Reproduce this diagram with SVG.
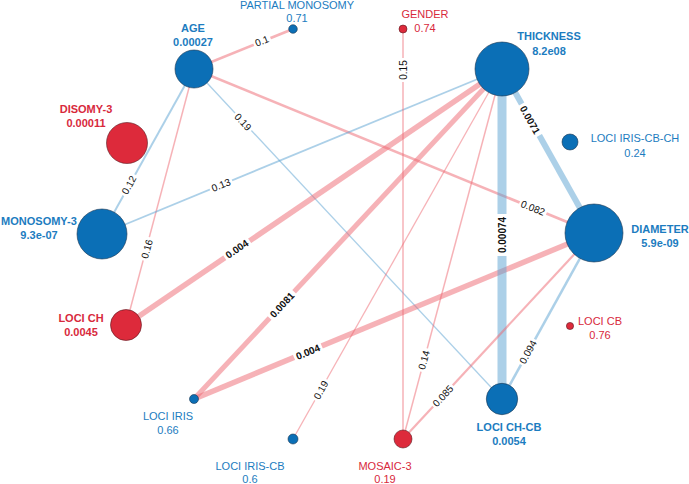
<svg xmlns="http://www.w3.org/2000/svg" width="689" height="484" viewBox="0 0 689 484">
<style>
.er{stroke:#ee6670;stroke-opacity:0.5;fill:none}
.eb{stroke:#5aa2d2;stroke-opacity:0.5;fill:none}
.nb{fill:#0b6fb6;stroke:#1b3550;stroke-width:0.6}
.nr{fill:#dd2a3b;stroke:#5a1a20;stroke-width:0.6}
.lb{font-family:"Liberation Sans",Arial,sans-serif;font-size:11px;fill:#1c7cc0;text-anchor:middle}
.lr{font-family:"Liberation Sans",Arial,sans-serif;font-size:11px;fill:#d8293c;text-anchor:middle}
.b{font-weight:bold}
.el{font-family:"Liberation Sans",Arial,sans-serif;font-size:10px;fill:#111;text-anchor:middle}
.bg{fill:#fff}
</style>
<rect width="689" height="484" fill="#fff"/>
<g id="connectors">
<line class="er" x1="194" y1="69" x2="293" y2="29" stroke-width="2.6"/>
<line class="eb" x1="194" y1="69" x2="102" y2="234" stroke-width="2"/>
<line class="er" x1="194" y1="69" x2="126" y2="325" stroke-width="1.5"/>
<line class="eb" x1="194" y1="69" x2="502" y2="399" stroke-width="1.3"/>
<line class="er" x1="194" y1="69" x2="594" y2="233" stroke-width="2.6"/>
<line class="eb" x1="102" y1="234" x2="502" y2="69" stroke-width="1.8"/>
<line class="er" x1="126" y1="325" x2="502" y2="69" stroke-width="5.5"/>
<line class="er" x1="194" y1="399" x2="502" y2="69" stroke-width="5"/>
<line class="er" x1="194" y1="399" x2="594" y2="233" stroke-width="5.5"/>
<line class="er" x1="403" y1="29" x2="403" y2="439" stroke-width="1.5"/>
<line class="eb" x1="502" y1="69" x2="502" y2="399" stroke-width="9"/>
<line class="eb" x1="502" y1="69" x2="594" y2="233" stroke-width="6"/>
<line class="er" x1="502" y1="69" x2="293" y2="439" stroke-width="1.3"/>
<line class="er" x1="502" y1="69" x2="403" y2="439" stroke-width="1.5"/>
<line class="er" x1="594" y1="233" x2="403" y2="439" stroke-width="2.2"/>
<line class="eb" x1="594" y1="233" x2="502" y2="399" stroke-width="2.5"/>
<g transform="translate(262,41) rotate(-22)"><rect class="bg" x="-9" y="-6" width="18" height="12"/><text class="el" y="3.5">0.1</text></g>
<g transform="translate(129,185) rotate(-61)"><rect class="bg" x="-12" y="-6" width="24" height="12"/><text class="el" y="3.5">0.12</text></g>
<g transform="translate(147,249) rotate(-75)"><rect class="bg" x="-12" y="-6" width="24" height="12"/><text class="el" y="3.5">0.16</text></g>
<g transform="translate(243,122) rotate(47)"><rect class="bg" x="-12" y="-6" width="24" height="12"/><text class="el" y="3.5">0.19</text></g>
<g transform="translate(533,208) rotate(22.3)"><rect class="bg" x="-14.5" y="-6" width="29" height="12"/><text class="el" y="3.5">0.082</text></g>
<g transform="translate(221,185) rotate(-22.4)"><rect class="bg" x="-12" y="-6" width="24" height="12"/><text class="el" y="3.5">0.13</text></g>
<g transform="translate(237,249) rotate(-34.2)"><rect class="bg" x="-15" y="-6" width="30" height="12"/><text class="el b" y="3.5">0.004</text></g>
<g transform="translate(282,305) rotate(-47)"><rect class="bg" x="-18" y="-6" width="36" height="12"/><text class="el b" y="3.5">0.0081</text></g>
<g transform="translate(308,352) rotate(-22.5)"><rect class="bg" x="-15" y="-6" width="30" height="12"/><text class="el b" y="3.5">0.004</text></g>
<g transform="translate(403,70) rotate(-90)"><rect class="bg" x="-12" y="-6" width="24" height="12"/><text class="el" y="3.5">0.15</text></g>
<g transform="translate(502,235) rotate(-90)"><rect class="bg" x="-21" y="-6" width="42" height="12"/><text class="el b" y="3.5">0.00074</text></g>
<g transform="translate(530,120) rotate(60.7)"><rect class="bg" x="-18" y="-6" width="36" height="12"/><text class="el b" y="3.5">0.0071</text></g>
<g transform="translate(321,390) rotate(-60.5)"><rect class="bg" x="-12" y="-6" width="24" height="12"/><text class="el" y="3.5">0.19</text></g>
<g transform="translate(424,360) rotate(-75)"><rect class="bg" x="-12" y="-6" width="24" height="12"/><text class="el" y="3.5">0.14</text></g>
<g transform="translate(443,396) rotate(-47.2)"><rect class="bg" x="-14.5" y="-6" width="29" height="12"/><text class="el" y="3.5">0.085</text></g>
<g transform="translate(528,352) rotate(-61)"><rect class="bg" x="-14.5" y="-6" width="29" height="12"/><text class="el" y="3.5">0.094</text></g>
</g>
<g id="node-age"><circle class="nb" cx="194" cy="69" r="19"/><text class="lb b" x="193" y="32">AGE</text><text class="lb b" x="193" y="46">0.00027</text></g>
<g id="node-partial-monosomy"><circle class="nb" cx="293" cy="29" r="4.3"/><text class="lb" x="297" y="9">PARTIAL MONOSOMY</text><text class="lb" x="297" y="22">0.71</text></g>
<g id="node-gender"><circle class="nr" cx="403" cy="29" r="4"/><text class="lr" x="425" y="18">GENDER</text><text class="lr" x="425" y="32">0.74</text></g>
<g id="node-thickness"><circle class="nb" cx="502" cy="69" r="27"/><text class="lb b" x="549" y="40">THICKNESS</text><text class="lb b" x="549" y="55">8.2e08</text></g>
<g id="node-loci-iris-cb-ch"><circle class="nb" cx="570" cy="142" r="8"/><text class="lb" x="635" y="142">LOCI IRIS-CB-CH</text><text class="lb" x="635" y="157">0.24</text></g>
<g id="node-disomy3"><circle class="nr" cx="127" cy="143" r="20.5"/><text class="lr b" x="86" y="113">DISOMY-3</text><text class="lr b" x="86" y="127">0.00011</text></g>
<g id="node-monosomy3"><circle class="nb" cx="102" cy="234" r="25"/><text class="lb b" x="39" y="225">MONOSOMY-3</text><text class="lb b" x="39" y="239">9.3e-07</text></g>
<g id="node-diameter"><circle class="nb" cx="594" cy="233" r="29"/><text class="lb b" x="660" y="233">DIAMETER</text><text class="lb b" x="660" y="247">5.9e-09</text></g>
<g id="node-loci-ch"><circle class="nr" cx="126" cy="325" r="15.5"/><text class="lr b" x="81" y="322">LOCI CH</text><text class="lr b" x="81" y="336">0.0045</text></g>
<g id="node-loci-cb"><circle class="nr" cx="570" cy="326" r="3.6"/><text class="lr" x="600" y="325">LOCI CB</text><text class="lr" x="600" y="339">0.76</text></g>
<g id="node-loci-iris"><circle class="nb" cx="194" cy="399" r="4.5"/><text class="lb" x="168" y="420">LOCI IRIS</text><text class="lb" x="168" y="434">0.66</text></g>
<g id="node-loci-ch-cb"><circle class="nb" cx="502" cy="399" r="15.7"/><text class="lb b" x="509" y="431">LOCI CH-CB</text><text class="lb b" x="509" y="445">0.0054</text></g>
<g id="node-loci-iris-cb"><circle class="nb" cx="293" cy="439" r="5"/><text class="lb" x="250" y="470">LOCI IRIS-CB</text><text class="lb" x="250" y="483">0.6</text></g>
<g id="node-mosaic3"><circle class="nr" cx="403" cy="439" r="9"/><text class="lr" x="385" y="470">MOSAIC-3</text><text class="lr" x="385" y="483">0.19</text></g>
</svg>
